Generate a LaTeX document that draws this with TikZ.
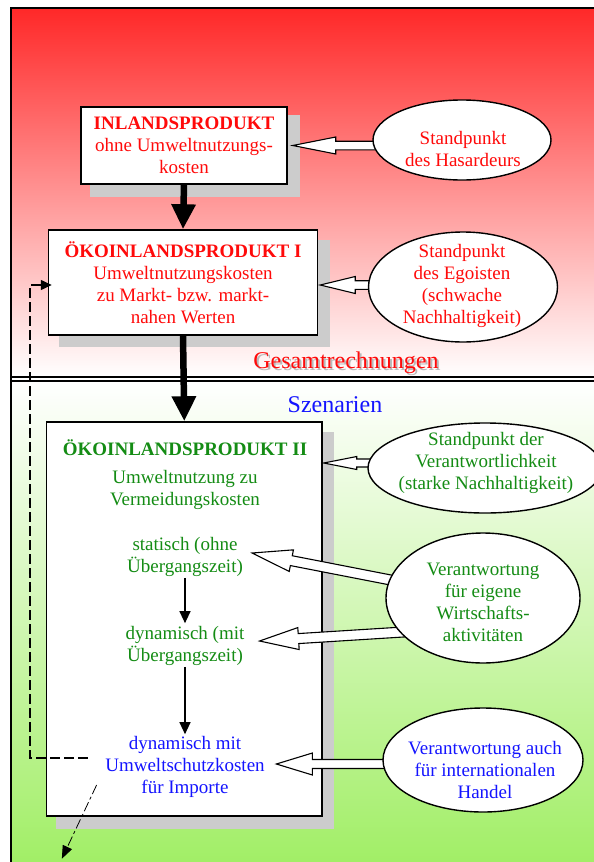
\documentclass[tikz,border=0pt]{standalone}
\usepackage{fontspec}
\setmainfont{Liberation Serif}
\usetikzlibrary{shapes.geometric,arrows.meta,calc}
\definecolor{tred}{RGB}{255,10,10}
\definecolor{tgreen}{RGB}{20,140,20}
\definecolor{tblue}{RGB}{20,20,255}
\definecolor{shadowgray}{RGB}{204,204,204}
\definecolor{topred}{RGB}{255,40,40}
\definecolor{botgreen}{RGB}{160,238,100}
\pgfdeclarelayer{front}
\pgfsetlayers{main,front}
% hollow block arrow: #1 start, #2 tip, #3 shaft half width, #4 head half width, #5 head length
\newcommand\hollowarr[5]{%
  \coordinate (ha-h) at ($(#2)!#5!(#1)$);
  \filldraw[fill=white,draw=black,line width=1.1pt,line join=miter]
    ($(#1)!#3!90:(#2)$) -- ($(ha-h)!#3!-90:(#1)$) -- ($(ha-h)!#4!-90:(#1)$) -- (#2)
    -- ($(ha-h)!#4!90:(#1)$) -- ($(ha-h)!#3!90:(#1)$) -- ($(#1)!#3!-90:(#2)$) -- cycle;}
\begin{document}
\begin{tikzpicture}[x=1pt,y=-1pt,
  boxstyle/.style={draw=black,line width=1.5pt,fill=white,align=center,inner sep=0pt,
    font=\fontsize{19}{22}\selectfont},
  txt/.style={align=center,inner sep=0pt,font=\fontsize{19}{22}\selectfont},
  ellstyle/.style={ellipse,draw=black,line width=1.4pt,fill=white,inner sep=0pt},
  bigarrow/.style={line width=6.5pt,-{Triangle[length=25pt,width=23pt]}},
  thinarrow/.style={line width=1.2pt,-{Triangle[length=12pt,width=11pt]}}]
\useasboundingbox (0,0) rectangle (594,862);
\fill[white] (0,0) rectangle (594,862);
% backgrounds
\shade[top color=topred,bottom color=white] (11,8) rectangle (600,377);
\shade[top color=white,bottom color=botgreen] (11,381) rectangle (600,870);
\draw[line width=1.8pt] (11,870) -- (11,8) -- (600,8);
\draw[line width=1.5pt] (11,377) -- (600,377);
\draw[line width=1.5pt] (11,381) -- (600,381);
% section labels
\node[inner sep=0pt,text=gray!55,font=\fontsize{24}{28}\selectfont] (gesshadow) at (348,365) {Gesamtrechnungen};
\node[inner sep=0pt,text=tred,font=\fontsize{24}{28}\selectfont] (ges) at (346,363) {Gesamtrechnungen};
\node[inner sep=0pt,text=tblue,font=\fontsize{24}{28}\selectfont] (szen) at (335,405) {Szenarien};
% boxes
\coordinate (c1) at (184,145.5);
\coordinate (c2) at (183,282.5);
\coordinate (c3) at (184.3,619);
\fill[shadowgray] ($(c1)+(-103,-38.5)+(9,8)$) rectangle ($(c1)+(103,38.5)+(13,13)$);
\node[boxstyle,text=tred,minimum width=206pt,minimum height=77pt] (box1) at (c1)
  {{\bfseries INLANDSPRODUKT}\\ohne Umweltnutzungs-\\kosten};
\fill[shadowgray] ($(c2)+(-134.5,-52.5)+(10,10)$) rectangle ($(c2)+(134.5,52.5)+(12,12)$);
\node[boxstyle,text=tred,minimum width=269pt,minimum height=105pt] (box2) at (c2)
  {{\bfseries ÖKOINLANDSPRODUKT I}\\Umweltnutzungskosten\\zu Markt- bzw. markt-\\nahen Werten};
\fill[shadowgray] ($(c3)+(-137.7,-197)+(9,10)$) rectangle ($(c3)+(137.7,197)+(12,13)$);
\node[boxstyle,minimum width=275.4pt,minimum height=394pt] (box3) at (c3) {};
% box 3 contents
\node[txt,text=tgreen,font=\fontsize{19}{22}\selectfont\bfseries] (t3) at (185,448) {ÖKOINLANDSPRODUKT II};
\node[txt,text=tgreen] (vk) at (185,490) {Umweltnutzung zu\\Vermeidungskosten};
\node[txt,text=tgreen] (stat) at (185,557) {statisch (ohne\\Übergangszeit)};
\node[txt,text=tgreen] (dyn) at (185,646) {dynamisch (mit\\Übergangszeit)};
\node[txt,text=tblue] (dmit) at (185,767) {dynamisch mit\\Umweltschutzkosten\\für Importe};
% main arrows
\draw[bigarrow] (box1.south) -- (box2.north);
\draw[bigarrow] (box2.south) -- (box3.north);
\draw[thinarrow] ($(stat.south)+(0,1)$) -- ($(dyn.north)+(0,-3)$);
\draw[thinarrow] ($(dyn.south)+(0,1)$) -- ($(dmit.north)+(0,-2)$);
% dashed feedback
\coordinate (dstart) at ($(dmit.west)+(-17.5,-9)$);
\coordinate (dx) at (30,0);
\coordinate (dend) at ($(box2.west)+(4,2.5)$);
\draw[line width=1.5pt,dash pattern=on 10pt off 4pt,-{Triangle[length=11pt,width=10pt]}]
  (dstart) -- (dstart -| dx) |- (dend);
\coordinate (gstart) at ($(dmit.west)+(-8.5,18)$);
\coordinate (gend) at ($(box3.south west)+(16,42)$);
\draw[line width=0.8pt,dash pattern=on 10pt off 3pt on 3pt off 3pt,-{Triangle[length=13pt,width=10pt]}]
  (gstart) -- (gend);
% ellipses
\begin{pgfonlayer}{front}
\node[ellstyle,minimum width=178pt,minimum height=80pt] (ell1) at (462,140) {};
\node[txt,text=tred] (ell1t) at (463,149) {Standpunkt\\des Hasardeurs};
\node[ellstyle,minimum width=189pt,minimum height=110pt] (ell2) at (463,287) {};
\node[txt,text=tred] (ell2t) at (462,286) {Standpunkt\\des Egoisten\\(schwache\\Nachhaltigkeit)};
\node[ellstyle,minimum width=234pt,minimum height=90pt] (ell3) at (485,468) {};
\node[txt,text=tgreen] (ell3t) at (486,463) {Standpunkt der\\Verantwortlichkeit\\(starke Nachhaltigkeit)};
\node[ellstyle,minimum width=194pt,minimum height=130pt] (ell4) at (483,598) {};
\node[txt,text=tgreen] (ell4t) at (483,602) {Verantwortung\\für eigene\\Wirtschafts-\\aktivitäten};
\node[ellstyle,minimum width=200pt,minimum height=104pt] (ell5) at (483,760) {};
\node[txt,text=tblue] (ell5t) at (485,770) {Verantwortung auch\\für internationalen\\Handel};
\end{pgfonlayer}
% hollow arrows
\coordinate (t1) at ($(box1.east)+(5,0)$);
\coordinate (s1) at (ell1.center |- t1);
\hollowarr{s1}{t1}{4.3pt}{8.5pt}{43pt}
\coordinate (t2) at ($(box2.east)+(2,2.5)$);
\coordinate (s2) at (ell2.center |- t2);
\hollowarr{s2}{t2}{4.3pt}{8.5pt}{35pt}
\coordinate (t3a) at ($(box3.east |- ell3.center)+(1,-5)$);
\coordinate (s3) at (ell3.center |- t3a);
\hollowarr{s3}{t3a}{4pt}{6.5pt}{33pt}
\coordinate (t4) at ($(stat.east)+(9,-4)$);
\coordinate (s4) at (ell4.center);
\hollowarr{s4}{t4}{5pt}{11pt}{40pt}
\coordinate (t5) at ($(dyn.east)+(15,-5)$);
\coordinate (s5) at ($(ell4.center)+(0,29)$);
\hollowarr{s5}{t5}{5pt}{11pt}{39pt}
\coordinate (t6) at ($(dmit.east)+(11.5,-3)$);
\coordinate (s6) at (ell5.center |- t6);
\hollowarr{s6}{t6}{4.5pt}{11pt}{36pt}
\end{tikzpicture}
\end{document}
